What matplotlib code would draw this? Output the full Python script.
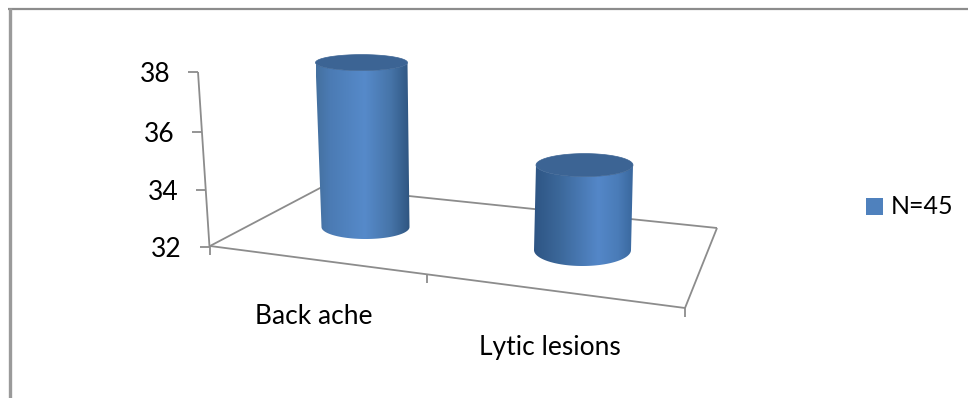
import matplotlib
matplotlib.use('Agg')
import matplotlib.pyplot as plt
import numpy as np
from matplotlib.colors import LinearSegmentedColormap
from matplotlib.patches import Polygon, Rectangle

plt.rcParams['font.family'] = ['Lato', 'DejaVu Sans']

# chart data
categories = ['Back ache', 'Lytic lesions']
values = [38, 35]
series_name = 'N=45'
y_ticks = [32, 34, 36, 38]

GREY = '#8c8c8c'
Y_BASE = 32

# where each cylinder stands on the floor, in pixels
base_x = [365.5, 582.5]
base_y = [227, 250]
unit_px = [27.4, 28.3]      # pixels per axis unit at that depth
half_w = [44, 48.5]
top_half_w = [46, 48.5]
half_h = [12, 16]
top_half_h = [8, 11.5]
lean = [-4, 2]

cmaps = [
    LinearSegmentedColormap.from_list('c1', [(0, '#44709f'), (0.15, '#4b7bb4'), (0.52, '#568aca'),
                                             (0.8, '#4674a8'), (1, '#2f5580')]),
    LinearSegmentedColormap.from_list('c2', [(0, '#2e5584'), (0.25, '#3b6799'), (0.65, '#5487c8'),
                                             (0.85, '#4a7cb8'), (1, '#3a689e')]),
]
cap_color = '#3c6494'

fig = plt.figure(figsize=(9.68, 3.98), dpi=100)
ax = fig.add_axes([0, 0, 1, 1])
ax.axis('off')


def line(xs, ys, lw=1.3, color=GREY):
    ax.plot(xs, ys, color=color, lw=lw, solid_capstyle='butt', zorder=1)


# outer frame
line([8, 968], [9, 9], lw=1.6)
line([9.7, 9.7], [8, 398], lw=2.4, color='#9a9a9a')

# floor of the 3d plot
line([210, 322], [246, 187])
line([322, 717], [187, 228])
line([717, 685], [228, 308])
line([210, 685], [246, 308])

# value axis
axis_top = (198, 72)
axis_bot = (209.5, 247)
tick_y = [247, 190, 132, 72]
line([axis_top[0], axis_bot[0]], [axis_top[1], axis_bot[1]])
for val, ty in zip(y_ticks, tick_y):
    tx = axis_top[0] + (ty - axis_top[1]) / (axis_bot[1] - axis_top[1]) * (axis_bot[0] - axis_top[0])
    line([tx - 10, tx], [ty, ty])
    ax.text(tx - 27.5, ty + 2.5, str(val), ha='right', va='center', fontsize=19, color='black')

# category ticks under the front edge
for tx, ty in [(210, 246), (427, 274), (685, 308)]:
    line([tx, tx], [ty, ty + 9])

ax.text(314, 316, categories[0], ha='center', va='center', fontsize=19, color='black')
ax.text(550, 347, categories[1], ha='center', va='center', fontsize=19, color='black')


# cylinder body is a horizontal gradient clipped to the outline
def cylinder(i, value):
    height = (value - Y_BASE) * unit_px[i]
    cx_b, cy_b = base_x[i], base_y[i]
    cx_t, cy_t = cx_b + lean[i], cy_b - height
    t = np.linspace(-np.pi / 2, np.pi / 2, 90)
    xb = cx_b + half_w[i] * np.sin(t)
    yb = cy_b + half_h[i] * np.cos(t)
    xt = cx_t + top_half_w[i] * np.sin(t)
    yt = cy_t + top_half_h[i] * np.cos(t)
    outline = np.column_stack([np.r_[xt, xb[::-1]], np.r_[yt, yb[::-1]]])
    x0, x1 = outline[:, 0].min(), outline[:, 0].max()
    y0, y1 = outline[:, 1].min(), outline[:, 1].max()
    grad = np.linspace(0, 1, 256).reshape(1, -1)
    im = ax.imshow(grad, cmap=cmaps[i], extent=(x0, x1, y1, y0), aspect='auto', zorder=3,
                   interpolation='bilinear')
    body = Polygon(outline, closed=True, transform=ax.transData, facecolor='none', edgecolor='none')
    ax.add_patch(body)
    im.set_clip_path(body)
    a = np.linspace(0, 2 * np.pi, 120)
    cap = np.column_stack([cx_t + top_half_w[i] * np.cos(a), cy_t + top_half_h[i] * np.sin(a)])
    ax.add_patch(Polygon(cap, closed=True, facecolor=cap_color, edgecolor=cap_color, lw=0.5, zorder=4))


for i, v in enumerate(values):
    cylinder(i, v)

# legend
ax.add_patch(Rectangle((866, 198), 17, 17, facecolor='#4f81bd', edgecolor='none'))
ax.text(891, 206, series_name, ha='left', va='center', fontsize=18, color='black')

ax.set_xlim(0, 968)
ax.set_ylim(398, 0)

fig.savefig('out.png', dpi=100)
